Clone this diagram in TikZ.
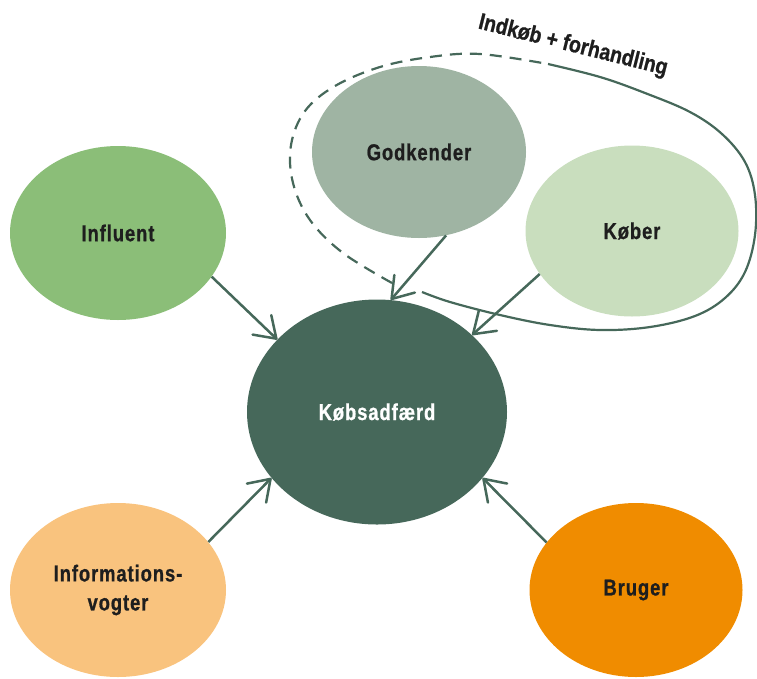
\documentclass[tikz,border=0pt]{standalone}
\usepackage{fontspec}
\newfontfamily\labelfont{Liberation Sans}[FakeStretch=0.8,LetterSpace=4,FakeBold=0.8]
\newfontfamily\loopfont{Liberation Sans}[FakeStretch=0.85,FakeBold=0.8]
\usetikzlibrary{arrows.meta,shapes.geometric}

\definecolor{darkgreen}{HTML}{46685A}
\definecolor{influentfill}{HTML}{8BBE78}
\definecolor{godkenderfill}{HTML}{9FB4A3}
\definecolor{koeberfill}{HTML}{C9DEBE}
\definecolor{infofill}{HTML}{F9C37E}
\definecolor{brugerfill}{HTML}{F08C00}
\definecolor{labeltext}{HTML}{1E1E1E}

\begin{document}
\begin{tikzpicture}[x=1pt,y=-1pt,
  role/.style={ellipse, inner sep=0pt, text=labeltext, align=center,
    font=\labelfont\bfseries\fontsize{23}{29}\selectfont},
  link/.style={draw=darkgreen, line width=2.5pt,
    -{Straight Barb[length=20pt,width=27pt,round]}},
  groupline/.style={draw=darkgreen, line width=2.2pt},
]
\useasboundingbox (0,0) rectangle (757,678);

% buying centre roles
\node[role, fill=influentfill, minimum width=216pt, minimum height=174pt] (infl) at (118,233) {Influent};
\node[role, fill=godkenderfill, minimum width=214pt, minimum height=172pt] (godk) at (419,152) {Godkender};
\node[role, fill=koeberfill, minimum width=213pt, minimum height=171pt] (koeb) at (632,231) {Køber};
\node[role, fill=darkgreen, text=white, minimum width=260pt, minimum height=225pt] (adf) at (377,412) {Købsadfærd};
\node[role, fill=infofill, minimum width=216pt, minimum height=174pt] (info) at (118,590) {Informations-\\vogter};
\node[role, fill=brugerfill, minimum width=213pt, minimum height=174pt] (brug) at (636,590) {Bruger};

% influence arrows
\draw[link] (infl.-25) -- (adf.144);
\draw[link] (godk.-72) -- (adf.83);
\draw[link] (koeb.205) -- (adf.39);
\draw[link] (info.28) -- (adf.-148);
\draw[link] (brug.152) -- (adf.-32);

% purchasing + negotiation loop
\draw[groupline, dash pattern=on 12pt off 8pt] plot[smooth, tension=0.6] coordinates {
  (392,283) (343,253) (310,220) (293,183) (291,145) (305,111)
  (335,86) (380,67) (430,57) (480,54) (548,64)};
\draw[groupline] plot[smooth, tension=0.6] coordinates {
  (548,64) (600,77) (645,93) (690,112) (722,134) (745,162) (755,195)
  (755,235) (745,272) (725,298) (695,316) (650,327) (600,330)
  (550,325) (500,315) (450,302) (422,292)};
\node[rotate=-14, text=labeltext, font=\loopfont\bfseries\fontsize{23}{27}\selectfont] (loop) at (573,46) {Indkøb + forhandling};
\end{tikzpicture}
\end{document}
